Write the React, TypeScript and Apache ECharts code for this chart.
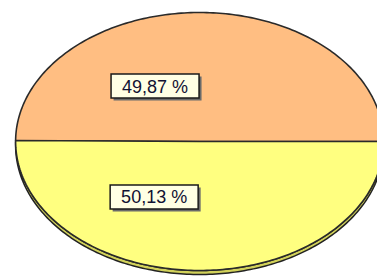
import React, { useEffect, useRef } from "react";
import * as echarts from "echarts";

const sliceNames = ["A", "B"];
const sliceValues = [49.87, 50.13];
const sliceColors = ["#FFBE82", "#FFFF80"];
const sideColors = ["#D9A06A", "#D2D25A"];

function fmt(v: number) {
  return v.toFixed(2).replace(".", ",") + " %";
}

export default function App() {
  const ref = useRef<HTMLDivElement>(null);
  useEffect(() => {
    if (!ref.current) return;
    const chart = echarts.init(ref.current, null, { renderer: "svg" });
    const total = sliceValues.reduce((a, b) => a + b, 0);
    const cx = 199.6, cy = 141.5, rx = 184, ry = 129, depth = 4;
    const startAngle = 0;
    const pt = (a: number, dy = 0) => [cx + rx * Math.cos(a), cy - ry * Math.sin(a) + dy];
    const arcPts = (s: number, e: number, dy = 0) => {
      const n = Math.max(8, Math.ceil(((e - s) / (2 * Math.PI)) * 360));
      const out: number[][] = [];
      for (let k = 0; k <= n; k++) out.push(pt(s + ((e - s) * k) / n, dy));
      return out;
    };
    const renderItem = (params: any, api: any) => {
      const i = params.dataIndex;
      const v = api.value(1) as number;
      let before = 0;
      for (let k = 0; k < i; k++) before += sliceValues[k];
      const s = startAngle + (before / total) * 2 * Math.PI;
      const e = s + (v / total) * 2 * Math.PI;
      const children: any[] = [];
      const ws = Math.max(s, Math.PI), we = Math.min(e, 2 * Math.PI);
      if (we > ws) {
        const top = arcPts(ws, we, 0);
        const bot = arcPts(ws, we, depth).reverse();
        children.push({
          type: "polygon",
          shape: { points: top.concat(bot) },
          style: { fill: sideColors[i], stroke: "#222", lineWidth: 1.5 },
        });
      }
      const face = [[cx, cy]].concat(arcPts(s, e));
      children.push({
        type: "polygon",
        shape: { points: face },
        style: { fill: sliceColors[i], stroke: "#2a2a2a", lineWidth: 1.6, lineJoin: "round" },
      });
      const mid = (s + e) / 2;
      const lx = cx + rx * 0.6 * Math.cos(mid) - 45;
      const ly = cy - ry * 0.43 * Math.sin(mid);
      const bw = 88, bh = 24;
      children.push({
        type: "rect",
        shape: { x: lx - bw / 2 + 2.5, y: ly - bh / 2 + 2.5, width: bw, height: bh },
        style: { fill: "#6a6a6a" },
      });
      children.push({
        type: "rect",
        shape: { x: lx - bw / 2, y: ly - bh / 2, width: bw, height: bh },
        style: { fill: "#FFFFE4", stroke: "#1a1a1a", lineWidth: 1.5 },
      });
      children.push({
        type: "text",
        x: lx,
        y: ly + 0.5,
        style: {
          text: fmt(v),
          fill: "#111133",
          font: "18px 'Liberation Sans', Arial, sans-serif",
          align: "center",
          verticalAlign: "middle",
        },
      });
      return { type: "group", children };
    };
    chart.setOption({
      animation: false,
      backgroundColor: "#ffffff",
      series: [
        {
          type: "custom",
          coordinateSystem: "none",
          renderItem,
          data: sliceNames.map((n, i) => ({ name: n, value: [i, sliceValues[i]] })),
        },
      ],
    });
    return () => chart.dispose();
  }, []);
  return (
    <div
      ref={ref}
      style={{ position: "fixed", left: 0, top: 0, width: 377, height: 278 }}
    />
  );
}
